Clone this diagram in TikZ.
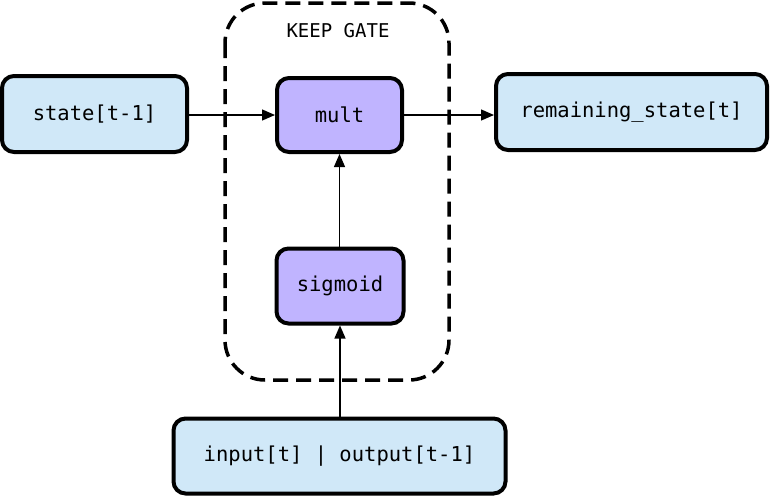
\documentclass[tikz,border=0pt]{standalone}
\usepackage{fontspec}
\setmonofont{DejaVu Sans Mono}
\usetikzlibrary{arrows.meta}
\definecolor{sky100}   {HTML}{D0E8F8}
\definecolor{violet200}{HTML}{C0B4FF}
\newcommand{\lbl}{\ttfamily\fontsize{20.5}{24}\selectfont}
\tikzset{
  io/.style    ={draw=black, line width=4pt, fill=sky100,
                 rounded corners=12pt, align=center, inner sep=0pt,
                 font=\lbl},
  op/.style    ={draw=black, line width=4pt, fill=violet200,
                 rounded corners=12pt, align=center, inner sep=0pt,
                 font=\lbl},
  gate/.style  ={draw=black, line width=3.5pt, dash pattern=on 15pt off 8pt,
                 rounded corners=40pt},
  ar/.style    ={-{Triangle[length=13pt,width=11pt]}, draw=black,
                 line width=1.3pt},
  tag/.style   ={font=\ttfamily\fontsize{19}{22}\selectfont, inner sep=0pt}
}
\begin{document}
\begin{tikzpicture}[x=1pt,y=-1pt]
\useasboundingbox (0,0) rectangle (770,498);
\draw[gate] (225,3) rectangle (449,380);
\node[tag] (title) at (338,31) {KEEP GATE};

\node[io, minimum width=185pt, minimum height=76pt] (prev) at (94.5,114)
  {state[t-1]};
\node[op, minimum width=125pt, minimum height=74pt] (mult) at (339.5,115)
  {mult};
\node[io, minimum width=271pt, minimum height=76pt] (rest) at (631.5,112)
  {remaining\_state[t]};
\node[op, minimum width=127pt, minimum height=75pt] (sig) at (340,286)
  {sigmoid};
\node[io, minimum width=332pt, minimum height=75pt] (inp) at (339.5,456)
  {input[t] | output[t-1]};

\draw[ar] (prev.east |- mult.west) -- (mult.west);
\draw[ar] (mult.east) -- (rest.west |- mult.east);
\draw[ar] (sig.north -| mult.south) -- (mult.south);
\draw[ar] (inp.north -| sig.south) -- (sig.south);
\end{tikzpicture}
\end{document}
